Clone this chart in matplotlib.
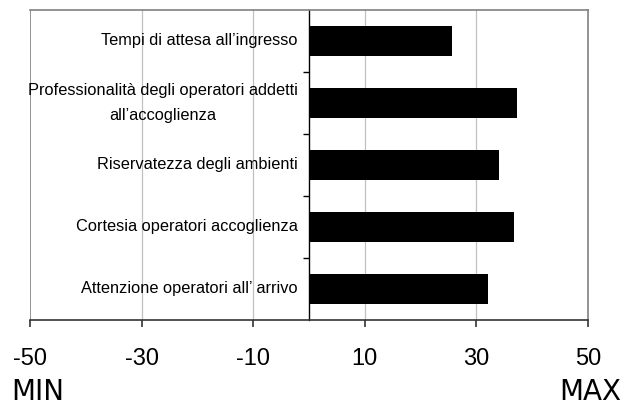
import matplotlib
matplotlib.use("Agg")
import matplotlib.pyplot as plt
from matplotlib import font_manager

categories = [
    "Tempi di attesa all\u2019ingresso",
    "Professionalit\u00e0 degli operatori addetti\nall\u2019accoglienza",
    "Riservatezza degli ambienti",
    "Cortesia operatori accoglienza",
    "Attenzione operatori all\u2019 arrivo",
]
scores = [25.7, 37.2, 34.0, 36.7, 32.0]
x_ticks = [-50, -30, -10, 10, 30, 50]

names = {f.name for f in font_manager.fontManager.ttflist}
label_font = "Liberation Sans Narrow" if "Liberation Sans Narrow" in names else "Liberation Sans"

fig = plt.figure(figsize=(6.25, 4.05), dpi=100)
ax = fig.add_axes([30 / 625, 1 - 320 / 405, 558 / 625, 310 / 405])

n = len(categories)
ypos = [n - 1 - i for i in range(n)]
ax.barh(ypos, scores, height=0.48, color="black", zorder=3)

ax.set_xlim(-50, 50)
ax.set_ylim(-0.5, n - 0.5)

# light vertical gridlines at inner ticks
for t in x_ticks[1:-1]:
    ax.axvline(t, color="#c0c0c0", lw=0.9, zorder=0)
ax.axvline(-50, color="#808080", lw=1.2, zorder=1)

# frame
for side in ("top", "right"):
    ax.spines[side].set_color("#808080")
    ax.spines[side].set_linewidth(1.2)
ax.spines["bottom"].set_color("#333333")
ax.spines["bottom"].set_linewidth(1.2)

# vertical axis at zero with ticks between categories
ax.spines["left"].set_position(("data", 0))
ax.spines["left"].set_color("black")
ax.spines["left"].set_linewidth(1.0)
ax.set_yticks([k + 0.5 for k in range(n - 1)])
ax.set_yticklabels([])
ax.tick_params(axis="y", direction="out", length=4, width=1.0, color="black")

ax.set_xticks(x_ticks)
ax.set_xticklabels([str(t) for t in x_ticks], fontsize=17, family="Liberation Sans")
ax.tick_params(axis="x", direction="out", length=5, width=1.2, color="#333333", pad=15)

for y, lab in zip(ypos, categories):
    ax.text(-2.0, y, lab, ha="right", va="center", multialignment="center",
            fontsize=11.8, family=label_font, linespacing=1.8, zorder=4)

fig.text(11 / 625, 1 - 400 / 405, "MIN", ha="left", va="baseline", fontsize=20,
         family="DejaVu Sans")
fig.text(621 / 625, 1 - 400 / 405, "MAX", ha="right", va="baseline", fontsize=20,
         family="DejaVu Sans")

fig.savefig("out.png", dpi=100)
